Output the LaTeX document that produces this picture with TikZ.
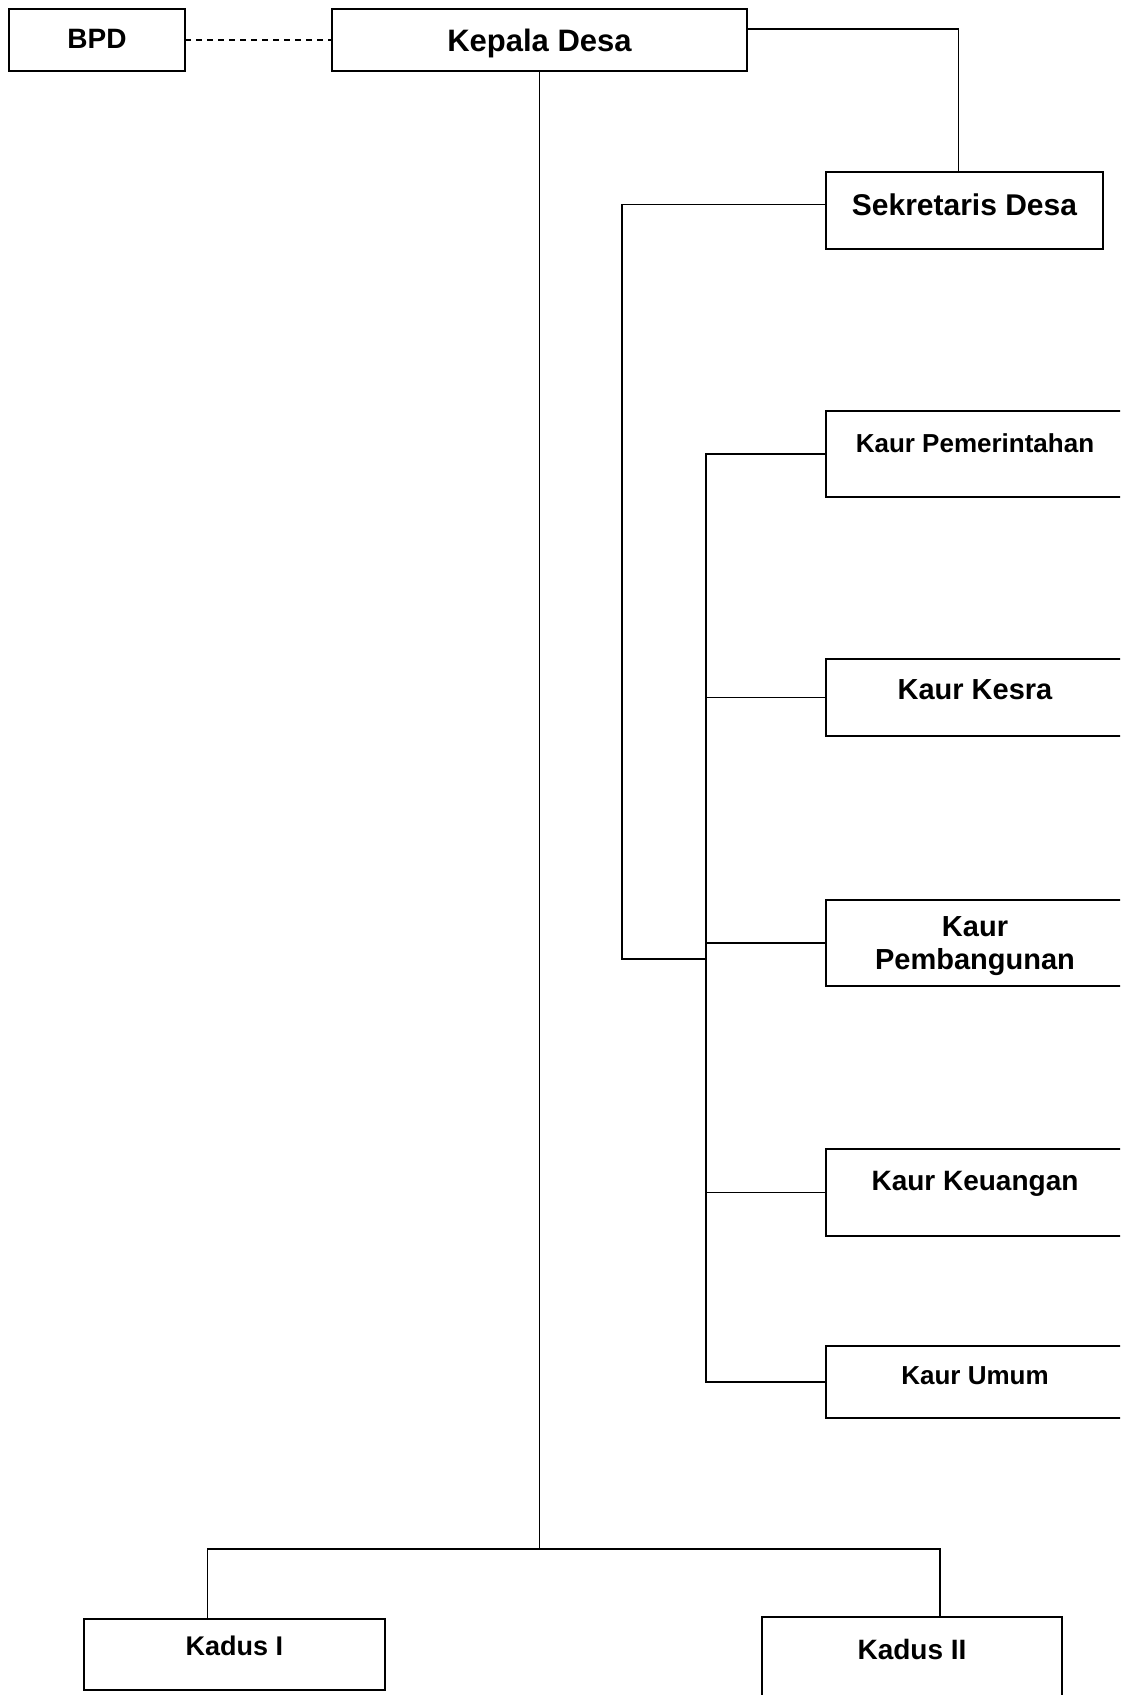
\documentclass[tikz,border=0pt]{standalone}
\usepackage{fontspec}
\setmainfont{Liberation Sans}
\usepackage{tikz}
\usetikzlibrary{calc}
\usetikzlibrary{positioning}
\newcommand{\schrift}[1]{\bfseries\fontsize{#1}{#1}\selectfont}

\begin{document}
\begin{tikzpicture}[
	x=1pt, y=-1pt,
  unit/.style = {draw, line width=1.8pt, inner sep=0pt, outer sep=0pt, anchor=north west},
  kaur/.style = {unit, minimum width=298pt},
  link/.style = {line width=1.6pt}
  ]
	\useasboundingbox (0,0) rectangle (1120,1695);
	\clip (0,0) rectangle (1120,1695);

	\node[unit, minimum width=176pt, text height=39pt, text depth=23pt, font=\schrift{28}] (bpd)    at (9,9)   {BPD};
	\node[unit, minimum width=415pt, text height=42pt, text depth=20pt, font=\schrift{31}] (kades)  at (332,9) {Kepala Desa};
	\node[unit, minimum width=277pt, text height=43pt, text depth=34pt, font=\schrift{30}] (sekdes) at (826,172) {Sekretaris Desa};

	\node[kaur, text height=41pt, text depth=45pt, font=\schrift{26}] (pem)   at (826,411)  {Kaur Pemerintahan};
	\node[kaur, text height=40pt, text depth=37pt, font=\schrift{29}] (kesra) at (826,659)  {Kaur Kesra};
	\node[kaur, minimum height=86pt, align=center, font={\bfseries\fontsize{29}{33}\selectfont}] (bang) at (826,900) {\rule{0pt}{27pt}Kaur\\Pembangunan};
	\node[kaur, text height=41pt, text depth=46pt, font=\schrift{28}] (keu)   at (826,1149) {Kaur Keuangan};
	\node[kaur, text height=38pt, text depth=34pt, font=\schrift{26}] (umum)  at (826,1346) {Kaur Umum};

	\node[unit, minimum width=301pt, text height=36pt, text depth=35pt, font=\schrift{27}] (kadus1) at (84,1619)  {Kadus I};
	\node[unit, minimum width=300pt, text height=42pt, text depth=41pt, font=\schrift{28}] (kadus2) at (762,1617) {Kadus II};

	\coordinate (kaurbus)  at (706,0);
	\coordinate (sekbus)   at (622,959);
	\coordinate (kadusbus) at ($(kades.south)+(0,1478)$);

	\draw[link, dash pattern=on 6pt off 5pt] (bpd) -- (kades);
	\draw[link] ([yshift=-20pt]kades.north east) -| ([xshift=-6pt]sekdes.north);
	\draw[link] (kades.south) -- (kadusbus);
	\draw[link] ([xshift=-27pt]kadus1.north) |- (kadusbus) -| ([xshift=28pt]kadus2.north);

	\draw[link] ([yshift=6pt]sekdes.west) -| (sekbus) -- (sekbus -| kaurbus);
	\draw[link] (pem.west) -- (pem.west -| kaurbus) -- (umum.west -| kaurbus) -- (umum.west);
	\foreach \k in {kesra,bang,keu}
		\draw[link] (\k.west) -- (\k.west -| kaurbus);

\end{tikzpicture}
\end{document}
